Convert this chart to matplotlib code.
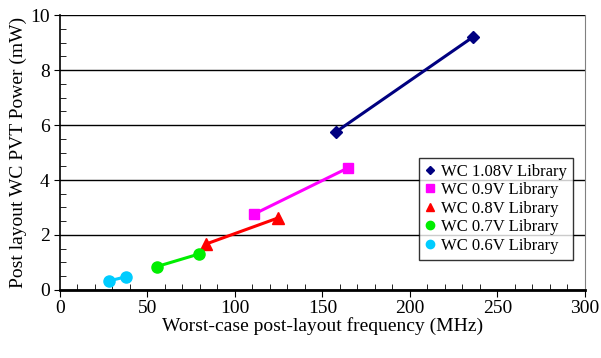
import matplotlib.pyplot as plt
from matplotlib.ticker import MultipleLocator

plt.rcParams['font.family'] = 'Liberation Serif'

labels = ['WC 1.08V Library', 'WC 0.9V Library', 'WC 0.8V Library',
          'WC 0.7V Library', 'WC 0.6V Library']
freq = [[157.7, 236.0], [110.9, 164.6], [83.4, 124.6], [55.3, 79.5], [28.0, 37.7]]
power = [[5.75, 9.2], [2.76, 4.44], [1.67, 2.62], [0.85, 1.31], [0.33, 0.48]]
colors = ['#000080', '#ff00ff', '#ff0000', '#00ee00', '#00ccff']
markers = ['D', 's', '^', 'o', 'o']
msizes = [6, 7, 8, 8, 8]

fig = plt.figure(figsize=(6.01, 3.58), dpi=100)
ax = fig.add_axes([0.0998, 0.19, 0.8735, 0.768])

for f, p, c, m, s, l in zip(freq, power, colors, markers, msizes, labels):
    ax.plot(f, p, color=c, marker=m, markersize=s, linewidth=2.2, label=l)

ax.set_xlim(0, 300)
ax.set_ylim(0, 10)
ax.xaxis.set_major_locator(MultipleLocator(50))
ax.xaxis.set_minor_locator(MultipleLocator(10))
ax.yaxis.set_major_locator(MultipleLocator(2))
ax.yaxis.set_minor_locator(MultipleLocator(0.5))
ax.tick_params(axis='x', which='major', direction='out', length=5, labelsize=14, pad=2)
ax.tick_params(axis='x', which='minor', direction='in', length=4)
ax.tick_params(axis='y', which='major', direction='out', length=4, labelsize=14)
ax.tick_params(axis='y', which='minor', direction='in', length=4)
ax.grid(axis='y', color='black', linewidth=1)
ax.set_axisbelow(True)
ax.spines['top'].set_visible(False)
ax.spines['right'].set_color('#808080')
ax.spines['bottom'].set_linewidth(2)
ax.spines['left'].set_linewidth(1.2)

ax.set_xlabel('Worst-case post-layout frequency (MHz)', fontsize=14, labelpad=0)
ax.set_ylabel('Post layout WC PVT Power (mW)', fontsize=14, labelpad=2)

leg = ax.legend(loc='lower right', bbox_to_anchor=(0.993, 0.08), fontsize=12,
                frameon=True, fancybox=False, edgecolor='black',
                handlelength=0.6, handletextpad=0.4, labelspacing=0.15,
                borderpad=0.35, markerscale=0.75)
leg.get_frame().set_linewidth(1)
for h in leg.legend_handles:
    h.set_linestyle('none')

fig.savefig('out.png', dpi=100)
